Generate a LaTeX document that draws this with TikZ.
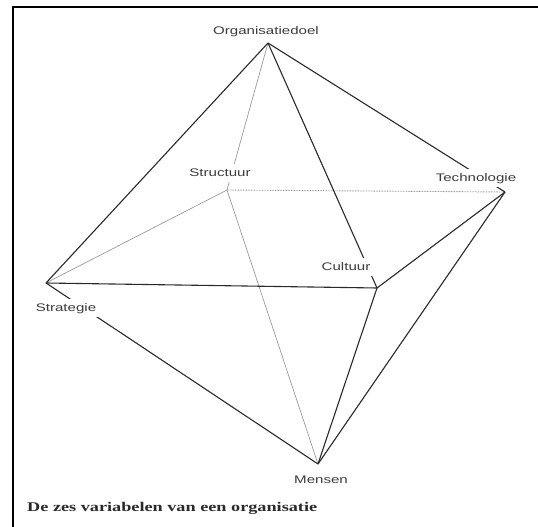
\documentclass[tikz,border=0pt]{standalone}
\usepackage{fontspec}
\usepackage{graphicx}
\setmainfont{Liberation Sans}
\newfontfamily\capfont{Liberation Serif}
\newcommand\stretchtext[1]{\scalebox{1.37}[1]{#1}}
\definecolor{ink}{HTML}{2A2A2A}
\definecolor{labelgray}{HTML}{3C3C3C}
\definecolor{lightline}{HTML}{9A9A9A}
\begin{document}
\begin{tikzpicture}[x=1pt,y=-1pt,
  solidedge/.style={draw=ink,line width=1.1pt},
  hiddenedge/.style={draw=lightline,line width=0.7pt},
  dotedge/.style={draw=lightline,line width=0.9pt,dash pattern=on 0.8pt off 0.8pt},
  vlabel/.style={fill=white,inner sep=4pt,text=labelgray,font=\fontsize{11}{13}\selectfont,text height=8pt,text depth=2.3pt,anchor=base}]
\useasboundingbox (0,0) rectangle (538,527);
\fill[white] (0,0) rectangle (538,527);
% frame
\draw[line width=1.8pt,black] (13,527) -- (13,7) -- (538,7);
% vertices
\coordinate (org) at (268,43);
\coordinate (str) at (227,190);
\coordinate (tec) at (505,192);
\coordinate (sgy) at (46,283);
\coordinate (cul) at (377,288);
\coordinate (men) at (318,464);
% hidden edges
\draw[hiddenedge] (org) -- (str);
\draw[hiddenedge] (str) -- (sgy);
\draw[hiddenedge] (str) -- (men);
\draw[dotedge] (str) -- (tec);
% visible edges
\draw[solidedge] (org) -- (sgy);
\draw[solidedge] (org) -- (cul);
\draw[solidedge] (org) -- (tec);
\draw[solidedge] (sgy) -- (cul);
\draw[solidedge] (cul) -- (tec);
\draw[solidedge] (sgy) -- (men);
\draw[solidedge] (cul) -- (men);
\draw[solidedge] (tec) -- (men);
% labels
\node[vlabel] (lorg) at (266,35) {\stretchtext{Organisatiedoel}};
\node[vlabel] (lstr) at (220,176) {\stretchtext{Structuur}};
\node[vlabel] (ltec) at (476,181) {\stretchtext{Technologie}};
\node[vlabel] (lsgy) at (66,311) {\stretchtext{Strategie}};
\node[vlabel] (lcul) at (346,270) {\stretchtext{Cultuur}};
\node[vlabel] (lmen) at (321,483) {\stretchtext{Mensen}};
% caption
\node[anchor=base west,inner sep=0pt,text=ink,font=\capfont\bfseries\fontsize{13.3}{15}\selectfont] (cap) at (27,511) {\stretchtext{De zes variabelen van een organisatie}};
\end{tikzpicture}
\end{document}
